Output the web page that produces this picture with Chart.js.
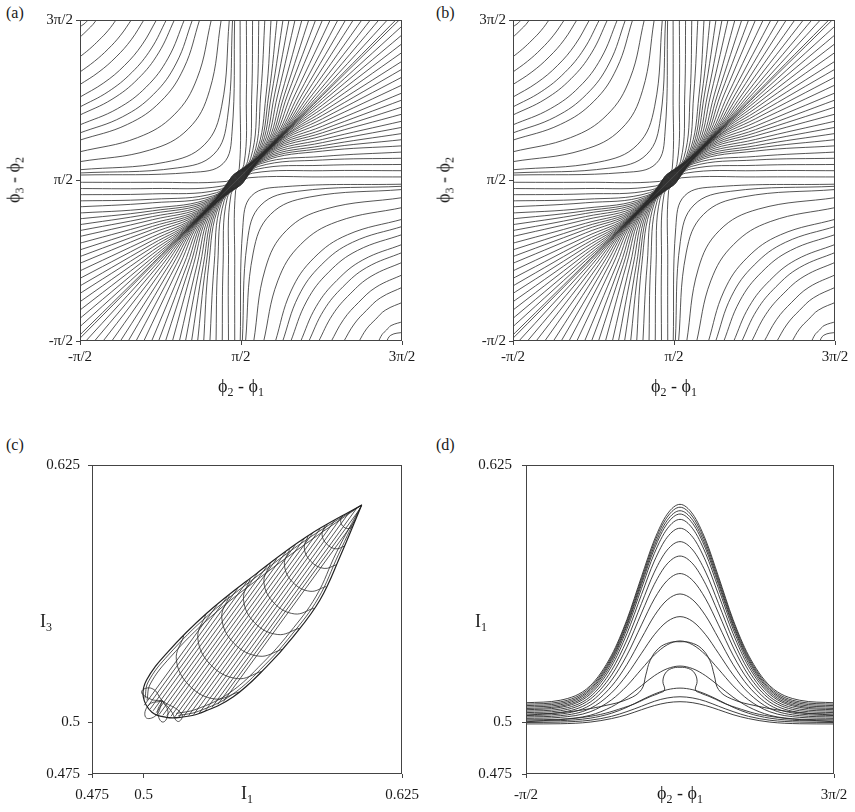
<!DOCTYPE html>
<html>
<head>
<meta charset="utf-8">
<script src="https://cdn.jsdelivr.net/npm/chart.js@4.4.0/dist/chart.umd.min.js"></script>
<style>
  body { margin:0; background:#fff; width:855px; height:812px; position:relative; overflow:hidden;
         font-family:"Liberation Serif","Times New Roman",serif; color:#1a1a1a; }
  .box { position:absolute; }
  .lbl { position:absolute; font-size:18px; line-height:1; white-space:nowrap; transform:translate(-50%,-50%); }
  .lbl sub { font-size:12px; vertical-align:-4px; }
  .rot { transform:translate(-50%,-50%) rotate(-90deg); }
  .tag { position:absolute; font-size:16px; line-height:1; }
</style>
</head>
<body>
<div class="tag" style="left:6px;top:5px">(a)</div>
<div class="tag" style="left:436px;top:5px">(b)</div>
<div class="tag" style="left:6px;top:437px">(c)</div>
<div class="tag" style="left:436px;top:437px">(d)</div>

<div class="box" style="left:0;top:10px;width:422px;height:391px"><canvas id="chartA"></canvas></div>
<div class="box" style="left:433px;top:10px;width:422px;height:391px"><canvas id="chartB"></canvas></div>
<div class="box" style="left:12px;top:455px;width:410px;height:379px"><canvas id="chartC"></canvas></div>
<div class="box" style="left:446px;top:455px;width:408px;height:379px"><canvas id="chartD"></canvas></div>

<div class="lbl" style="left:241px;top:387px">ϕ<sub>2</sub> - ϕ<sub>1</sub></div>
<div class="lbl rot" style="left:15px;top:180px">ϕ<sub>3</sub> - ϕ<sub>2</sub></div>
<div class="lbl" style="left:674px;top:387px">ϕ<sub>2</sub> - ϕ<sub>1</sub></div>
<div class="lbl rot" style="left:445px;top:180px">ϕ<sub>3</sub> - ϕ<sub>2</sub></div>
<div class="lbl" style="left:247px;top:794px">I<sub>1</sub></div>
<div class="lbl" style="left:46px;top:622px">I<sub>3</sub></div>
<div class="lbl" style="left:680px;top:794px">ϕ<sub>2</sub> - ϕ<sub>1</sub></div>
<div class="lbl" style="left:481px;top:622px">I<sub>1</sub></div>

<script>
// ---- phase portraits (a), (b): phases in degrees, -90 .. 270 ----
const phaseTicks = [-90, 90, 270];
const phaseLabels = ['-π/2', 'π/2', '3π/2'];

// corner arcs, upper-left (left edge -> top edge)
const hypUL = [
  [[-91,262],[-85.5,265.5],[-80,271]],
  [[-91,250],[-85.8,254.7],[-80.7,259.7],[-75.7,264.8],[-71,271]],
  [[-91,228],[-79.4,237.4],[-68.6,247.6],[-58.4,258.4],[-49,271]],
  [[-91,211],[-73.9,223.6],[-58.5,237.5],[-44.6,252.9],[-32,271]],
  [[-91,197],[-68.9,211.7],[-49.6,228.6],[-32.7,247.9],[-18,271]],
  [[-91,183],[-63.4,199.5],[-40.1,219.1],[-20.5,242.4],[-4,271]],
  [[-91,172],[-58.5,189.6],[-32.1,211.1],[-10.6,237.5],[7,271]],
  [[-91,163],[-54.2,181.1],[-25.1,204.1],[-2.1,233.2],[16,271]],
  [[-91,152],[-48.2,170.5],[-15.9,194.9],[8.5,227.2],[27,271]],
  [[-91,143],[-42.7,161.3],[-7.7,186.7],[17.7,221.7],[36,271]],
  [[-91,135],[-37,152.9],[0.3,178.7],[26.1,216],[44,271]],
  [[-91,122],[-25.6,138.1],[15.3,163.7],[40.9,204.6],[57,271]],
  [[-91,111],[-12.2,124.1],[31.1,147.9],[54.9,191.2],[68,271]],
  [[-91,102],[5.7,110.6],[49,130],[68.4,173.3],[77,271]],
  [[-91,98.4],[18.7,104.1],[59.6,119.4],[74.9,160.3],[80.6,271]],
  [[-91,96.1],[34.5,99],[70,109],[80,144.5],[82.9,271]]
];

// corner arcs, lower-right (bottom edge -> right edge)
const hypLR = [
  [[272,-80],[257.5,-83.5],[252,-92]],
  [[272,-68],[257.8,-72.7],[252.7,-77.7],[247.7,-82.8],[243,-92]],
  [[272,-46],[251.4,-55.4],[240.6,-65.6],[230.4,-76.4],[221,-92]],
  [[272,-29],[245.9,-41.6],[230.5,-55.5],[216.6,-70.9],[204,-92]],
  [[272,-15],[240.9,-29.7],[221.6,-46.6],[204.7,-65.9],[190,-92]],
  [[272,-1],[235.4,-17.5],[212.1,-37.1],[192.5,-60.4],[176,-92]],
  [[272,10],[230.5,-7.6],[204.1,-29.1],[182.6,-55.5],[165,-92]],
  [[272,19],[226.2,0.9],[197.1,-22.1],[174.1,-51.2],[156,-92]],
  [[272,30],[220.2,11.5],[187.9,-12.9],[163.5,-45.2],[145,-92]],
  [[272,39],[214.7,20.7],[179.7,-4.7],[154.3,-39.7],[136,-92]],
  [[272,47],[209,29.1],[171.7,3.3],[145.9,-34],[128,-92]],
  [[272,60],[197.6,43.9],[156.7,18.3],[131.1,-22.6],[115,-92]],
  [[272,71],[184.2,57.9],[140.9,34.1],[117.1,-9.2],[104,-92]],
  [[272,80],[166.3,71.4],[123,52],[103.6,8.7],[95,-92]],
  [[272,83.6],[153.3,77.9],[112.4,62.6],[97.1,21.7],[91.4,-92]],
  [[272,85.9],[137.5,83],[102,73],[92,37.5],[89.1,-92]]
];

// trajectories squeezed through the central band: top edge -> left edge
const flowA = [
  [[89,277],[89,186],[88,103],[81,96],[74,89],[-9,88],[-100,88]],
  [[96,277],[96,186],[93.2,107.8],[81.2,95.8],[69.2,83.8],[-9,81],[-100,81]],
  [[103,277],[102,186],[97.4,111.6],[81.4,95.6],[65.4,79.6],[-9,75],[-100,74]],
  [[110,277],[108,186],[100.7,114.3],[81.7,95.3],[62.7,76.3],[-9,69],[-100,67]],
  [[117,277],[112,186],[103.9,117.1],[81.9,95.1],[59.9,73.1],[-9,65],[-100,60]],
  [[124,277],[118,186],[106.1,118.9],[82.1,94.9],[58.1,70.9],[-9,59],[-100,53]],
  [[131,277],[121,186],[108.3,120.7],[82.3,94.7],[56.3,68.7],[-9,56],[-100,46]],
  [[138,277],[124,186],[110.5,122.5],[82.5,94.5],[54.5,66.5],[-9,53],[-100,39]],
  [[145,277],[127.5,186],[112.7,124.3],[82.7,94.3],[52.7,64.3],[-9,49.5],[-100,32]],
  [[152,277],[131,186],[115,126],[83,94],[51,62],[-9,46],[-100,25]],
  [[160,277],[135,186],[117.2,127.8],[83.2,93.8],[49.2,59.8],[-9,42],[-100,17]],
  [[168,277],[138.5,186],[119.4,129.6],[83.4,93.6],[47.4,57.6],[-9,38.5],[-100,9]],
  [[176,277],[142,186],[121.6,131.4],[83.6,93.4],[45.6,55.4],[-9,35],[-100,1]],
  [[184,277],[145.9,186],[123.8,133.2],[83.8,93.2],[43.8,53.2],[-9,31.1],[-100,-7]],
  [[193,277],[150.2,186],[126.1,134.9],[84.1,92.9],[42.1,50.9],[-9,26.8],[-100,-16]],
  [[202,277],[154.2,186],[128.3,136.7],[84.3,92.7],[40.3,48.7],[-9,22.8],[-100,-25]],
  [[211,277],[158.1,186],[130.5,138.5],[84.5,92.5],[38.5,46.5],[-9,18.9],[-100,-34]],
  [[220,277],[161.9,186],[132.7,140.3],[84.7,92.3],[36.7,44.3],[-9,15.1],[-100,-43]],
  [[230,277],[165.8,186],[134.9,142.1],[84.9,92.1],[34.9,42.1],[-9,11.2],[-100,-53]],
  [[240,277],[169.6,186],[137.1,143.9],[85.1,91.9],[33.1,39.9],[-9,7.4],[-100,-63]],
  [[250,277],[173.4,186],[139.4,145.6],[85.4,91.6],[31.4,37.6],[-9,3.6],[-100,-73]],
  [[260,277],[176.9,186],[141.6,147.4],[85.6,91.4],[29.6,35.4],[-9,0.1],[-100,-83]],
  [[270,277],[180.1,186],[143.8,149.2],[85.8,91.2],[27.8,33.2],[-9,-3.1],[-100,-93]]
];

// trajectories squeezed through the central band: bottom edge -> right edge
const flowB = [
  [[83,-95],[83,-4],[84,79],[91,86],[98,93],[181,94],[272,94]],
  [[76,-95],[76,-4],[78.8,74.2],[90.8,86.2],[102.8,98.2],[181,101],[272,101]],
  [[69,-95],[70,-4],[74.6,70.4],[90.6,86.4],[106.6,102.4],[181,107],[272,108]],
  [[62,-95],[64,-4],[71.3,67.7],[90.3,86.7],[109.3,105.7],[181,113],[272,115]],
  [[55,-95],[60,-4],[68.1,64.9],[90.1,86.9],[112.1,108.9],[181,117],[272,122]],
  [[48,-95],[54,-4],[65.9,63.1],[89.9,87.1],[113.9,111.1],[181,123],[272,129]],
  [[41,-95],[51,-4],[63.7,61.3],[89.7,87.3],[115.7,113.3],[181,126],[272,136]],
  [[34,-95],[48,-4],[61.5,59.5],[89.5,87.5],[117.5,115.5],[181,129],[272,143]],
  [[27,-95],[44.5,-4],[59.3,57.7],[89.3,87.7],[119.3,117.7],[181,132.5],[272,150]],
  [[20,-95],[41,-4],[57,56],[89,88],[121,120],[181,136],[272,157]],
  [[12,-95],[37,-4],[54.8,54.2],[88.8,88.2],[122.8,122.2],[181,140],[272,165]],
  [[4,-95],[33.5,-4],[52.6,52.4],[88.6,88.4],[124.6,124.4],[181,143.5],[272,173]],
  [[-4,-95],[30,-4],[50.4,50.6],[88.4,88.6],[126.4,126.6],[181,147],[272,181]],
  [[-12,-95],[26.1,-4],[48.2,48.8],[88.2,88.8],[128.2,128.8],[181,150.9],[272,189]],
  [[-21,-95],[21.8,-4],[45.9,47.1],[87.9,89.1],[129.9,131.1],[181,155.2],[272,198]],
  [[-30,-95],[17.8,-4],[43.7,45.3],[87.7,89.3],[131.7,133.3],[181,159.2],[272,207]],
  [[-39,-95],[13.9,-4],[41.5,43.5],[87.5,89.5],[133.5,135.5],[181,163.1],[272,216]],
  [[-48,-95],[10.1,-4],[39.3,41.7],[87.3,89.7],[135.3,137.3],[181,166.9],[272,225]],
  [[-58,-95],[6.2,-4],[37.1,39.9],[87.1,89.9],[137.1,139.9],[181,170.8],[272,235]],
  [[-68,-95],[2.4,-4],[34.9,38.1],[86.9,90.1],[138.9,142.1],[181,174.6],[272,245]],
  [[-78,-95],[-1.4,-4],[32.6,36.4],[86.6,90.4],[140.6,144.4],[181,178.4],[272,255]],
  [[-88,-95],[-4.9,-4],[30.4,34.6],[86.4,90.6],[142.4,146.6],[181,181.9],[272,265]],
  [[-98,-95],[-8.1,-4],[28.2,32.8],[86.2,90.8],[144.2,148.8],[181,185.1],[272,275]]
];

// ---- (c) I3 against I1 ----
const intTicks = [0.475, 0.5, 0.625];
const intLabels = ['0.475', '0.5', '0.625'];

const tearOutline = [[0.6055,0.6056],[0.5788,0.5902],[0.5547,0.5724],[0.5305,0.5530],[0.5111,0.5336],
  [0.5014,0.5206],[0.4998,0.5126],[0.5040,0.5050],[0.5110,0.5025],[0.5176,0.5025],[0.5272,0.5045],
  [0.5434,0.5125],[0.5595,0.5271],[0.5724,0.5417],[0.5853,0.5595],[0.5950,0.5805],[0.6055,0.6056]];

// trajectories running just inside the two flanks
const tearFlanks = [
  [[0.6055,0.6056],[0.5796,0.5893],[0.5555,0.5715],[0.5313,0.5521],[0.5119,0.5327],[0.5022,0.5197],[0.5006,0.5117]],
  [[0.6055,0.6056],[0.5806,0.5883],[0.5565,0.5705],[0.5323,0.5511],[0.5129,0.5317],[0.5032,0.5187],[0.5016,0.5107]],
  [[0.6055,0.6056],[0.5942,0.5814],[0.5845,0.5604],[0.5716,0.5426],[0.5587,0.5280],[0.5426,0.5134],[0.5264,0.5054],[0.5168,0.5034]],
  [[0.6055,0.6056],[0.5932,0.5824],[0.5835,0.5614],[0.5706,0.5436],[0.5577,0.5290],[0.5416,0.5144],[0.5254,0.5064],[0.5158,0.5044]]
];

// cross ribs, upper edge -> lower edge, bulging towards the blunt end
const tearRibs = [
  [[0.5962,0.6001],[0.5953,0.5978],[0.5964,0.5953],[0.5988,0.5941],[0.6012,0.5950]],
  [[0.5876,0.5953],[0.5863,0.5912],[0.5885,0.5867],[0.5930,0.5843],[0.5971,0.5856]],
  [[0.5796,0.5906],[0.5777,0.5847],[0.5809,0.5782],[0.5873,0.5748],[0.5933,0.5766]],
  [[0.5706,0.5841],[0.5681,0.5765],[0.5722,0.5680],[0.5805,0.5637],[0.5882,0.5660]],
  [[0.5613,0.5772],[0.5582,0.5680],[0.5632,0.5579],[0.5731,0.5527],[0.5824,0.5555]],
  [[0.5516,0.5699],[0.5483,0.5597],[0.5537,0.5484],[0.5649,0.5427],[0.5752,0.5457]],
  [[0.5415,0.5617],[0.5378,0.5507],[0.5437,0.5384],[0.5558,0.5322],[0.5670,0.5355]],
  [[0.5301,0.5526],[0.5262,0.5409],[0.5325,0.5279],[0.5453,0.5213],[0.5571,0.5248]],
  [[0.5194,0.5420],[0.5158,0.5306],[0.5220,0.5180],[0.5345,0.5114],[0.5460,0.5148]]
];

// long parallel trajectories, blunt end -> upper edge
const tearHatch = [
  [[0.5003,0.5084],[0.5355,0.5570]], [[0.5017,0.5075],[0.5405,0.5611]],
  [[0.5032,0.5066],[0.5455,0.5651]], [[0.5046,0.5057],[0.5505,0.5691]],
  [[0.5061,0.5048],[0.5554,0.5729]], [[0.5075,0.5039],[0.5599,0.5762]],
  [[0.5093,0.5035],[0.5644,0.5795]], [[0.5112,0.5033],[0.5688,0.5828]],
  [[0.5132,0.5030],[0.5733,0.5861]], [[0.5151,0.5028],[0.5778,0.5894]],
  [[0.5170,0.5026],[0.5817,0.5918]], [[0.5193,0.5029],[0.5853,0.5939]],
  [[0.5218,0.5034],[0.5889,0.5960]], [[0.5242,0.5039],[0.5925,0.5981]],
  [[0.5267,0.5043],[0.5961,0.6002]], [[0.5298,0.5057],[0.5997,0.6023]],
  [[0.5331,0.5074],[0.6033,0.6043]], [[0.5359,0.5088],[0.6047,0.6038]],
  [[0.5386,0.5102],[0.6023,0.5981]]
];

const tearPetals = [
  [[0.5090,0.5105],[0.5040,0.5165],[0.4990,0.5150],[0.5030,0.5115],[0.5090,0.5105]],
  [[0.5090,0.5105],[0.5025,0.5085],[0.5010,0.5025],[0.5060,0.5035],[0.5090,0.5105]],
  [[0.5090,0.5105],[0.5068,0.5050],[0.5093,0.5002],[0.5118,0.5050],[0.5090,0.5105]],
  [[0.5090,0.5105],[0.5130,0.5060],[0.5165,0.5005],[0.5185,0.5040],[0.5090,0.5105]]
];

// ---- (d) I1 against phi2 - phi1 ----
const phaseX = [-90,-50,-15,10,28,45,60,75,90,105,120,135,152,170,195,230,270];
const intensityCurves = [
  [.5096,.5108,.5178,.5327,.5500,.5708,.5886,.6011,.6059,.6011,.5886,.5708,.5500,.5327,.5178,.5108,.5096],
  [.5089,.5100,.5170,.5318,.5491,.5696,.5873,.5997,.6045,.5997,.5873,.5696,.5491,.5318,.5170,.5100,.5089],
  [.5082,.5093,.5162,.5309,.5479,.5683,.5858,.5981,.6028,.5981,.5858,.5683,.5479,.5309,.5162,.5093,.5082],
  [.5075,.5086,.5155,.5300,.5469,.5670,.5843,.5965,.6012,.5965,.5843,.5670,.5469,.5300,.5155,.5086,.5075],
  [.5068,.5079,.5146,.5288,.5454,.5651,.5821,.5940,.5986,.5940,.5821,.5651,.5454,.5288,.5146,.5079,.5068],
  [.5062,.5073,.5137,.5273,.5432,.5621,.5784,.5899,.5943,.5899,.5784,.5621,.5432,.5273,.5137,.5073,.5062],
  [.5055,.5065,.5125,.5253,.5401,.5578,.5730,.5837,.5878,.5837,.5730,.5578,.5401,.5253,.5125,.5065,.5055],
  [.5048,.5057,.5113,.5230,.5367,.5531,.5671,.5770,.5808,.5770,.5671,.5531,.5367,.5230,.5113,.5057,.5048],
  [.5041,.5049,.5099,.5205,.5327,.5474,.5600,.5689,.5723,.5689,.5600,.5474,.5327,.5205,.5099,.5049,.5041],
  [.5034,.5041,.5084,.5176,.5282,.5409,.5518,.5595,.5624,.5595,.5518,.5409,.5282,.5176,.5084,.5041,.5034],
  [.5027,.5033,.5068,.5144,.5232,.5336,.5426,.5490,.5514,.5490,.5426,.5336,.5232,.5144,.5068,.5033,.5027],
  [.5020,.5025,.5052,.5110,.5178,.5259,.5328,.5377,.5396,.5377,.5328,.5259,.5178,.5110,.5052,.5025,.5020],
  [.5013,.5016,.5035,.5076,.5123,.5179,.5227,.5261,.5274,.5261,.5227,.5179,.5123,.5076,.5035,.5016,.5013],
  [.5007,.5009,.5021,.5045,.5074,.5109,.5138,.5159,.5167,.5159,.5138,.5109,.5074,.5045,.5021,.5009,.5007],
  [.5000,.5002,.5011,.5030,.5053,.5079,.5103,.5119,.5125,.5119,.5103,.5079,.5053,.5030,.5011,.5002,.5000],
  [.4993,.4994,.5002,.5019,.5038,.5062,.5082,.5096,.5101,.5096,.5082,.5062,.5038,.5019,.5002,.4994,.4993]
];
// trajectories that fold back near the top of the low humps
const intensityLoops = [
  [[-90,0.5035],[-40,0.5052],[0,0.5080],[30,0.5115],[45,0.5160],[50,0.5230],[55,0.5300],[65,0.5360],[78,0.5388],[90,0.5392],
   [102,0.5388],[115,0.5360],[125,0.5300],[130,0.5230],[135,0.5160],[150,0.5115],[180,0.5080],[220,0.5052],[270,0.5035]],
  [[-90,0.5003],[-15,0.5030],[30,0.5080],[55,0.5125],[66,0.5143],[72,0.5158],[70,0.5200],[73,0.5240],[80,0.5262],[90,0.5268],
   [100,0.5262],[107,0.5240],[110,0.5200],[108,0.5158],[114,0.5143],[125,0.5125],[150,0.5080],[195,0.5030],[270,0.5003]]
];

Chart.defaults.font.family = '"Liberation Serif", "Times New Roman", serif';
Chart.defaults.font.size = 15;
Chart.defaults.color = '#1a1a1a';

// full box around the plot area
const frame = {
  id: 'frame',
  afterDatasetsDraw(chart) {
    const { ctx, chartArea: a } = chart;
    ctx.save();
    ctx.strokeStyle = '#444';
    ctx.lineWidth = 1;
    ctx.strokeRect(a.left + 0.5, a.top + 0.5, a.width - 1, a.height - 1);
    ctx.restore();
  }
};

function axis(min, max, vals, labels, size, pad, horizontal) {
  return {
    type: 'linear', min, max,
    grid: { display: true, drawOnChartArea: false, drawTicks: true, tickLength: 4, color: '#444' },
    border: { display: false },
    ticks: { autoSkip: false, maxRotation: 0, padding: pad, callback: (v, i) => labels[i] },
    afterBuildTicks: s => { s.ticks = vals.map(v => ({ value: v })); },
    afterFit: s => {
      if (horizontal) s.height = size; else s.width = size;
      // keep the plot box exactly where the layout padding puts it
      s.paddingTop = s.paddingBottom = s.paddingLeft = s.paddingRight = 0;
    }
  };
}

const ink = { borderColor: '#2b2b2b', borderWidth: 0.8, pointRadius: 0, showLine: true, fill: false, clip: 0 };

function lines(list, extra) {
  return list.map(c => ({ ...ink, tension: 0.4, ...extra, data: c.map(([x, y]) => ({ x, y })) }));
}

function chart(id, datasets, xs, ys) {
  return new Chart(document.getElementById(id), {
    type: 'scatter',
    data: { datasets },
    options: {
      responsive: true, maintainAspectRatio: false, animation: false, events: [],
      layout: { padding: { left: 0, top: 10, right: 20, bottom: 0 } },
      plugins: { legend: { display: false }, tooltip: { enabled: false } },
      scales: { x: xs, y: ys }
    },
    plugins: [frame]
  });
}

function phasePortrait(id) {
  const ds = [...lines(hypUL), ...lines(hypLR), ...lines(flowA), ...lines(flowB)];
  chart(id, ds,
    axis(-90, 270, phaseTicks, phaseLabels, 60, 3, true),
    axis(-90, 270, phaseTicks, phaseLabels, 80, 3, false));
}
phasePortrait('chartA');
phasePortrait('chartB');

chart('chartC', [
    ...lines([tearOutline], { borderWidth: 1.2, borderColor: '#222' }),
    ...lines(tearFlanks),
    ...lines(tearRibs),
    ...lines(tearHatch, { tension: 0 }),
    ...lines(tearPetals, { tension: 0.5 })
  ],
  axis(0.475, 0.625, intTicks, intLabels, 60, 8, true),
  axis(0.475, 0.625, intTicks, intLabels, 80, 8, false));

chart('chartD', [
    ...intensityCurves.map(ys => ({ ...ink, borderWidth: 0.9, cubicInterpolationMode: 'monotone',
      data: ys.map((y, i) => ({ x: phaseX[i], y })) })),
    ...lines(intensityLoops, { borderWidth: 0.9 })
  ],
  axis(-90, 270, [-90, 270], ['-π/2', '3π/2'], 60, 8, true),
  axis(0.475, 0.625, intTicks, intLabels, 80, 10, false));
</script>
</body>
</html>
